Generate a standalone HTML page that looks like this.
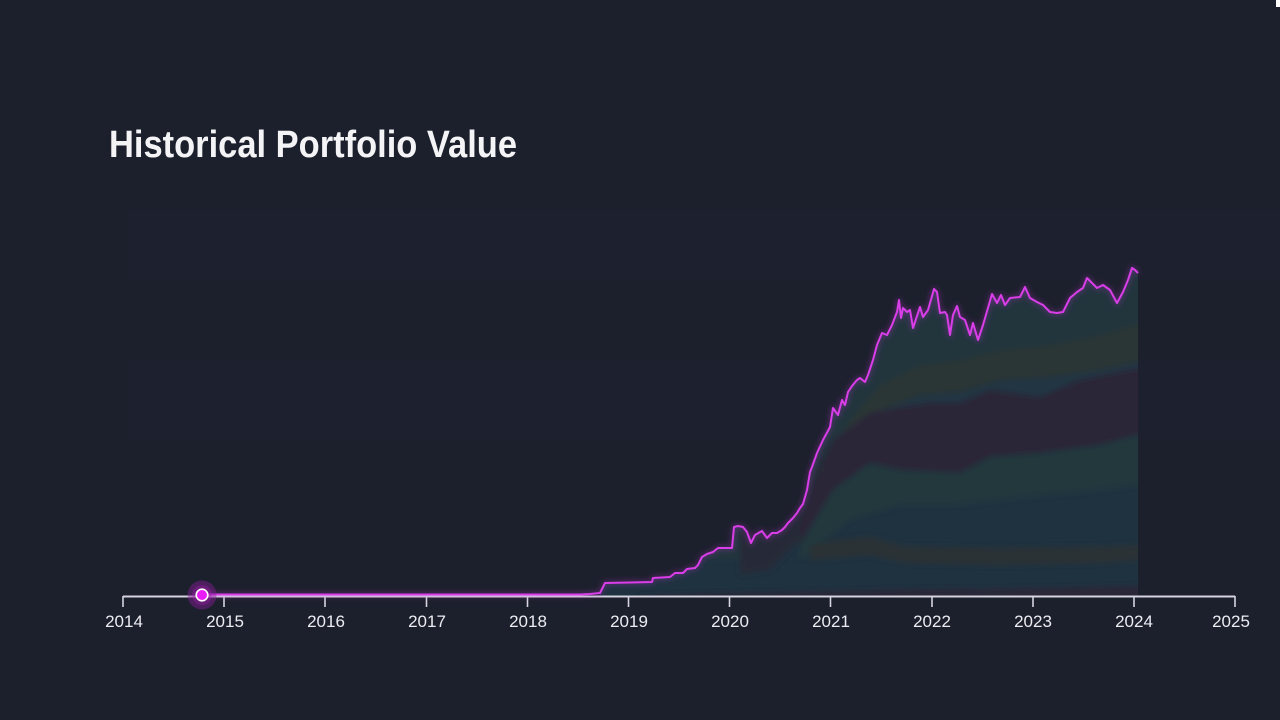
<!DOCTYPE html>
<html>
<head>
<meta charset="utf-8">
<style>
  html,body{margin:0;padding:0;background:#1c202c;}
  body{width:1280px;height:720px;overflow:hidden;}
  svg{display:block;}
</style>
</head>
<body>
<svg width="1280" height="720" viewBox="0 0 1280 720" xmlns="http://www.w3.org/2000/svg">
  <defs>
    <clipPath id="areaClip">
      <polygon points="600,596 600,593 605,583 652,582 653,578 670,577 675,573 683,573 687,569 695,568 698,565 702,557 707,554 713,552 718,548 728,548 732,548 734,527 738,526 743,527 747,532 751,543 755,535 762,531 767,538 772,533 777,533 782,530 785,527 788,523 793,518 797,513 800,508 803,504 807,490 810,472 812,467 817,453 823,440 830,427 833,408 838,415 842,400 845,405 848,392 852,386 857,380 860,378 865,382 868,375 873,360 877,345 882,333 887,335 892,325 897,312 899,300 901,318 903,308 907,312 910,310 913,328 920,307 923,317 928,310 934,289 937,292 940,313 945,312 947,315 950,335 953,315 957,306 960,317 965,320 970,335 973,323 978,340 983,325 992,294 997,303 1001,295 1005,305 1010,298 1020,297 1025,287 1030,298 1037,302 1043,305 1050,312 1057,313 1063,312 1070,298 1077,292 1083,288 1087,278 1092,283 1097,288 1103,285 1110,290 1117,303 1123,292 1128,280 1132,268 1135,270 1138,273 1138,596"/>
    </clipPath>
    <filter id="soft" x="-5%" y="-5%" width="110%" height="110%">
      <feGaussianBlur stdDeviation="3"/>
    </filter>
    <filter id="glow" x="-50%" y="-50%" width="200%" height="200%">
      <feGaussianBlur stdDeviation="3"/>
    </filter>
  </defs>

  <!-- background -->
  <rect x="0" y="0" width="1280" height="720" fill="#1c202c"/>
  <rect x="127" y="210" width="1153" height="70" fill="#1e2230" opacity="0.7"/>
  <rect x="127" y="360" width="1153" height="80" fill="#1e2230" opacity="0.7"/>
  <rect x="1276" y="0" width="4" height="7" fill="#ffffff"/>

  <!-- title -->
  <text x="109" y="157" font-family="'Liberation Sans', Arial, sans-serif" font-size="38" font-weight="bold" fill="#f4f4f7" textLength="408" lengthAdjust="spacingAndGlyphs">Historical Portfolio Value</text>

  <!-- stacked area -->
  <g clip-path="url(#areaClip)">
    <rect x="595" y="250" width="550" height="350" fill="#1f3240"/>
    <g filter="url(#soft)">
      <polygon points="590,250 1145,250 1145,322 1100,335 1050,345 1000,350 960,360 920,365 880,385 850,420 820,470 790,520 760,560 590,560" fill="#21363c"/>
      <polygon points="740,520 800,505 830,440 820,480 800,540 770,570 740,575" fill="#262b39"/>
      <polygon points="820,470 850,420 880,385 920,365 960,360 1000,350 1050,345 1100,335 1145,322 1145,360 1100,370 1050,377 1000,380 960,392 920,395 880,410 850,445 820,490" fill="#2a3535"/>
      <polygon points="820,490 850,445 880,410 920,395 960,392 1000,380 1050,377 1100,370 1145,360 1145,367 1080,380 1040,397 990,390 960,403 930,403 900,407 870,413 833,440 800,525" fill="#213443"/>
      <polygon points="800,525 833,440 870,413 900,407 930,403 960,403 990,390 1040,397 1080,380 1145,367 1145,433 1100,445 1040,453 990,457 960,473 900,470 870,463 833,490 800,545" fill="#292638"/>
      <polygon points="800,545 833,490 870,463 900,470 960,473 990,457 1040,453 1100,445 1145,433 1145,485 1100,490 1050,495 1000,500 960,505 900,505 850,520 800,560" fill="#20383c"/>
      <polygon points="810,545 840,540 870,537 905,547 1000,548 1100,547 1145,545 1145,560 1100,563 1000,565 905,563 870,555 810,560" fill="#2a3334"/>
      <polygon points="640,596 700,594 800,592 900,590 1000,589 1145,586 1145,600 640,600" fill="#292737"/>
    </g>
  </g>

  <!-- axis -->
  <g stroke="#d6d4e0" stroke-width="1.6" fill="none">
    <line x1="123" y1="596.5" x2="1235" y2="596.5" stroke-width="2"/>
    <line x1="123" y1="596" x2="123" y2="607"/>
    <line x1="224" y1="596" x2="224" y2="607"/>
    <line x1="325" y1="596" x2="325" y2="607"/>
    <line x1="426.5" y1="596" x2="426.5" y2="607"/>
    <line x1="527.5" y1="596" x2="527.5" y2="607"/>
    <line x1="628.5" y1="596" x2="628.5" y2="607"/>
    <line x1="729.5" y1="596" x2="729.5" y2="607"/>
    <line x1="830.5" y1="596" x2="830.5" y2="607"/>
    <line x1="932" y1="596" x2="932" y2="607"/>
    <line x1="1033" y1="596" x2="1033" y2="607"/>
    <line x1="1134" y1="596" x2="1134" y2="607"/>
    <line x1="1235" y1="596" x2="1235" y2="607"/>
  </g>
  <g font-family="'Liberation Sans', Arial, sans-serif" font-size="17" fill="#ececf2" text-anchor="middle">
    <text x="124" y="627">2014</text>
    <text x="225" y="627">2015</text>
    <text x="326" y="627">2016</text>
    <text x="427" y="627">2017</text>
    <text x="528" y="627">2018</text>
    <text x="629" y="627">2019</text>
    <text x="730" y="627">2020</text>
    <text x="831" y="627">2021</text>
    <text x="932" y="627">2022</text>
    <text x="1033" y="627">2023</text>
    <text x="1134" y="627">2024</text>
    <text x="1231" y="627">2025</text>
  </g>

  <!-- portfolio line -->
  <polyline fill="none" stroke="#c030d8" stroke-width="4" opacity="0.35" filter="url(#glow)" stroke-linejoin="round"
    points="202,594.5 580,594.5 590,594 600,593 605,583 652,582 653,578 670,577 675,573 683,573 687,569 695,568 698,565 702,557 707,554 713,552 718,548 728,548 732,548 734,527 738,526 743,527 747,532 751,543 755,535 762,531 767,538 772,533 777,533 782,530 785,527 788,523 793,518 797,513 800,508 803,504 807,490 810,472 812,467 817,453 823,440 830,427 833,408 838,415 842,400 845,405 848,392 852,386 857,380 860,378 865,382 868,375 873,360 877,345 882,333 887,335 892,325 897,312 899,300 901,318 903,308 907,312 910,310 913,328 920,307 923,317 928,310 934,289 937,292 940,313 945,312 947,315 950,335 953,315 957,306 960,317 965,320 970,335 973,323 978,340 983,325 992,294 997,303 1001,295 1005,305 1010,298 1020,297 1025,287 1030,298 1037,302 1043,305 1050,312 1057,313 1063,312 1070,298 1077,292 1083,288 1087,278 1092,283 1097,288 1103,285 1110,290 1117,303 1123,292 1128,280 1132,268 1135,270 1138,273"/>
  <polyline fill="none" stroke="#d93ee8" stroke-width="2" stroke-linejoin="round"
    points="202,594.5 580,594.5 590,594 600,593 605,583 652,582 653,578 670,577 675,573 683,573 687,569 695,568 698,565 702,557 707,554 713,552 718,548 728,548 732,548 734,527 738,526 743,527 747,532 751,543 755,535 762,531 767,538 772,533 777,533 782,530 785,527 788,523 793,518 797,513 800,508 803,504 807,490 810,472 812,467 817,453 823,440 830,427 833,408 838,415 842,400 845,405 848,392 852,386 857,380 860,378 865,382 868,375 873,360 877,345 882,333 887,335 892,325 897,312 899,300 901,318 903,308 907,312 910,310 913,328 920,307 923,317 928,310 934,289 937,292 940,313 945,312 947,315 950,335 953,315 957,306 960,317 965,320 970,335 973,323 978,340 983,325 992,294 997,303 1001,295 1005,305 1010,298 1020,297 1025,287 1030,298 1037,302 1043,305 1050,312 1057,313 1063,312 1070,298 1077,292 1083,288 1087,278 1092,283 1097,288 1103,285 1110,290 1117,303 1123,292 1128,280 1132,268 1135,270 1138,273"/>

  <!-- marker -->
  <circle cx="202" cy="595" r="14.5" fill="#8a1c99" opacity="0.45"/>
  <circle cx="202" cy="595" r="10" fill="#a020b0" opacity="0.35"/>
  <circle cx="202" cy="595" r="5.8" fill="#ea1cf5" stroke="#ffffff" stroke-width="1.6"/>
</svg>
</body>
</html>
